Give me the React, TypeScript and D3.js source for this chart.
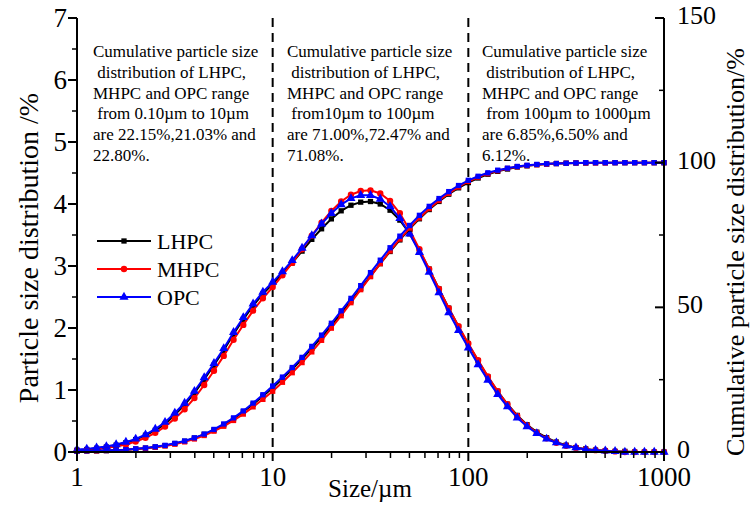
import React from "react";
import * as d3 from "d3";

const sizes = [1, 1.122, 1.259, 1.413, 1.585, 1.778, 1.995, 2.239, 2.512, 2.818, 3.162, 3.548, 3.981, 4.467, 5.012, 5.623, 6.31, 7.079, 7.943, 8.913, 10, 11.22, 12.59, 14.13, 15.85, 17.78, 19.95, 22.39, 25.12, 28.18, 31.62, 35.48, 39.81, 44.67, 50.12, 56.23, 63.1, 70.79, 79.43, 89.13, 100, 112.2, 125.9, 141.3, 158.5, 177.8, 199.5, 223.9, 251.2, 281.8, 316.2, 354.8, 398.1, 446.7, 501.2, 562.3, 631.0, 707.9, 794.3, 891.3, 1000];

const distLHPC = [0.03, 0.04, 0.06, 0.08, 0.11, 0.15, 0.2, 0.27, 0.35, 0.45, 0.6, 0.76, 0.95, 1.17, 1.4, 1.64, 1.9, 2.14, 2.36, 2.55, 2.71, 2.88, 3.05, 3.24, 3.43, 3.6, 3.76, 3.89, 3.98, 4.03, 4.04, 4.0, 3.9, 3.74, 3.52, 3.25, 2.95, 2.63, 2.32, 2.02, 1.74, 1.47, 1.21, 0.98, 0.77, 0.59, 0.44, 0.32, 0.23, 0.16, 0.11, 0.07, 0.05, 0.03, 0.02, 0.01, 0.01, 0, 0, 0, 0];
const distMHPC = [0.02, 0.03, 0.05, 0.07, 0.09, 0.12, 0.17, 0.23, 0.31, 0.41, 0.54, 0.69, 0.87, 1.08, 1.31, 1.55, 1.81, 2.05, 2.28, 2.48, 2.66, 2.85, 3.05, 3.27, 3.49, 3.7, 3.89, 4.04, 4.15, 4.21, 4.22, 4.17, 4.05, 3.85, 3.58, 3.27, 2.95, 2.63, 2.32, 2.03, 1.75, 1.48, 1.22, 0.98, 0.77, 0.58, 0.43, 0.31, 0.22, 0.15, 0.1, 0.07, 0.04, 0.03, 0.02, 0.01, 0, 0, 0, 0, 0];
const distOPC = [0.04, 0.05, 0.07, 0.09, 0.12, 0.16, 0.21, 0.28, 0.37, 0.48, 0.63, 0.79, 0.98, 1.2, 1.43, 1.67, 1.93, 2.17, 2.39, 2.58, 2.74, 2.91, 3.09, 3.29, 3.49, 3.68, 3.85, 3.99, 4.09, 4.14, 4.14, 4.08, 3.96, 3.77, 3.52, 3.22, 2.9, 2.57, 2.25, 1.96, 1.68, 1.41, 1.16, 0.93, 0.73, 0.55, 0.41, 0.3, 0.21, 0.15, 0.1, 0.07, 0.04, 0.03, 0.02, 0.01, 0, 0, 0, 0, 0];

const cumLHPC = [0.3, 0.4, 0.4, 0.5, 0.7, 0.8, 1.0, 1.3, 1.7, 2.2, 2.9, 3.7, 4.8, 6.1, 7.6, 9.4, 11.5, 13.9, 16.5, 19.3, 22.2, 25.3, 28.6, 32.1, 35.8, 39.7, 43.7, 47.9, 52.2, 56.5, 60.8, 65.1, 69.3, 73.3, 77.1, 80.6, 83.8, 86.6, 89.1, 91.3, 93.1, 94.7, 96.0, 97.0, 97.8, 98.5, 98.9, 99.3, 99.5, 99.7, 99.8, 99.9, 99.9, 100, 100, 100, 100, 100, 100, 100, 100];
const cumMHPC = [0.3, 0.4, 0.4, 0.5, 0.6, 0.8, 1.0, 1.3, 1.6, 2.1, 2.7, 3.5, 4.5, 5.7, 7.2, 8.9, 10.9, 13.1, 15.6, 18.2, 21.0, 24.1, 27.4, 30.9, 34.6, 38.6, 42.8, 47.1, 51.6, 56.1, 60.6, 65.1, 69.5, 73.6, 77.4, 80.9, 84.1, 86.9, 89.4, 91.6, 93.5, 95.0, 96.2, 97.2, 98.0, 98.6, 99.0, 99.3, 99.5, 99.7, 99.8, 99.9, 99.9, 99.9, 99.9, 100, 100, 100, 100, 100, 100];
const cumOPC = [0.3, 0.4, 0.5, 0.5, 0.7, 0.8, 1.1, 1.4, 1.8, 2.3, 3.0, 3.8, 4.9, 6.2, 7.8, 9.7, 11.8, 14.2, 16.9, 19.8, 22.8, 25.9, 29.2, 32.7, 36.5, 40.4, 44.5, 48.8, 53.1, 57.5, 62.0, 66.3, 70.6, 74.6, 78.3, 81.8, 84.9, 87.6, 90.0, 92.1, 93.9, 95.3, 96.5, 97.4, 98.1, 98.7, 99.1, 99.4, 99.6, 99.7, 99.8, 99.9, 100, 100, 100, 100, 100, 100, 100, 100, 100];

const seriesNames = ["LHPC", "MHPC", "OPC"];
const seriesColors = ["#000000", "#ff0000", "#0000ff"];
const xTicks = [1, 10, 100, 1000];
const yLeftTicks = [0, 1, 2, 3, 4, 5, 6, 7];
const yRightTicks = [0, 50, 100, 150];
const dividers = [10, 100];

const notes = [
  ["Cumulative particle size", " distribution of LHPC,", "MHPC and OPC range", " from 0.10µm to 10µm", "are 22.15%,21.03% and", "22.80%."],
  ["Cumulative particle size", " distribution of LHPC,", "MHPC and OPC range", " from10µm to 100µm", "are 71.00%,72.47% and", "71.08%."],
  ["Cumulative particle size", " distribution of LHPC,", "MHPC and OPC range", " from 100µm to 1000µm", "are 6.85%,6.50% and", "6.12%."],
];
const noteX = [93, 287, 482];

const FONT = "'Liberation Serif', 'Times New Roman', serif";

export default function App() {
  const L = 77, R = 664, T = 18, B = 452;
  const x = d3.scaleLog().domain([1, 1000]).range([L, R]);
  const yL = d3.scaleLinear().domain([0, 7]).range([B, T]);
  const yR = d3.scaleLinear().domain([0, 150]).range([B, T]);

  const dists = [distLHPC, distMHPC, distOPC];
  const cums = [cumLHPC, cumMHPC, cumOPC];
  const distShapes = [d3.symbolSquare, d3.symbolCircle, d3.symbolTriangle];
  const distSizes = [28, 32, 36];

  const lineL = d3.line<number>().x((_, i) => x(sizes[i])).y((d) => yL(d));
  const lineR = d3.line<number>().x((_, i) => x(sizes[i])).y((d) => yR(d));

  const minorX: number[] = [];
  for (let dec = 1; dec < 1000; dec *= 10) {
    for (let k = 2; k <= 9; k++) minorX.push(dec * k);
  }
  const minorYL = d3.range(0.5, 7, 1);
  const minorYR = [25, 75, 125];

  return (
    <svg width={750} height={505} style={{ position: "absolute", left: 0, top: 0, background: "#fff" }} fontFamily={FONT}>
      <rect x={0} y={0} width={750} height={505} fill="#fff" />
      {dividers.map((d) => (
        <line key={d} x1={x(d)} x2={x(d)} y1={T} y2={B} stroke="#000" strokeWidth={2} strokeDasharray="9,6" />
      ))}
      {notes.map((lines, bi) => (
        <text key={bi} fontSize={17} fill="#000" style={{ whiteSpace: "pre" }}>
          {lines.map((ln, li) => (
            <tspan key={li} x={noteX[bi]} y={57 + li * 20.8} xmlSpace="preserve">{ln}</tspan>
          ))}
        </text>
      ))}
      {dists.map((vals, si) => (
        <g key={"d" + si}>
          <path d={lineL(vals) || ""} fill="none" stroke={seriesColors[si]} strokeWidth={2} />
          {vals.map((v, i) => (
            <path key={i} transform={`translate(${x(sizes[i])},${yL(v)})`} d={d3.symbol(distShapes[si], distSizes[si])() || ""} fill={seriesColors[si]} />
          ))}
        </g>
      ))}
      {cums.map((vals, si) => (
        <g key={"c" + si}>
          <path d={lineR(vals) || ""} fill="none" stroke={seriesColors[si]} strokeWidth={2} />
          {vals.map((v, i) => (
            <path key={i} transform={`translate(${x(sizes[i])},${yR(v)})`} d={d3.symbol(d3.symbolSquare, 28)() || ""} fill={seriesColors[si]} />
          ))}
        </g>
      ))}
      <line x1={L} x2={L} y1={T} y2={B} stroke="#000" strokeWidth={2} />
      <line x1={R} x2={R} y1={T} y2={B} stroke="#000" strokeWidth={2} />
      <line x1={L} x2={R} y1={B} y2={B} stroke="#000" strokeWidth={2} />
      {xTicks.map((t) => (
        <g key={t}>
          <line x1={x(t)} x2={x(t)} y1={B} y2={B + 9} stroke="#000" strokeWidth={2} />
          <text x={x(t)} y={486} fontSize={27} textAnchor="middle">{t}</text>
        </g>
      ))}
      {minorX.map((t) => (
        <line key={t} x1={x(t)} x2={x(t)} y1={B} y2={B + 6} stroke="#000" strokeWidth={1.5} />
      ))}
      {yLeftTicks.map((t) => (
        <g key={t}>
          <line x1={L - 9} x2={L} y1={yL(t)} y2={yL(t)} stroke="#000" strokeWidth={2} />
          <text x={67} y={yL(t) + 9} fontSize={27} textAnchor="end">{t}</text>
        </g>
      ))}
      {minorYL.map((t) => (
        <line key={t} x1={L - 5} x2={L} y1={yL(t)} y2={yL(t)} stroke="#000" strokeWidth={1.5} />
      ))}
      {yRightTicks.map((t) => (
        <g key={t}>
          <line x1={R - 9} x2={R} y1={yR(t)} y2={yR(t)} stroke="#000" strokeWidth={2} />
          <text x={677} y={yR(t) + 6} fontSize={26} textAnchor="start">{t}</text>
        </g>
      ))}
      {minorYR.map((t) => (
        <line key={t} x1={R - 5} x2={R} y1={yR(t)} y2={yR(t)} stroke="#000" strokeWidth={1.5} />
      ))}
      <text x={370} y={497} fontSize={25} textAnchor="middle">Size/µm</text>
      <text transform={`translate(38,248) rotate(-90)`} fontSize={28} textAnchor="middle">Particle size distribution /%</text>
      <text transform={`translate(744,252) rotate(-90)`} fontSize={26} textAnchor="middle">Cumulative particle size distribution/%</text>
      {seriesNames.map((n, i) => {
        const ly = 241 + i * 28;
        return (
          <g key={n}>
            <line x1={97} x2={151} y1={ly} y2={ly} stroke={seriesColors[i]} strokeWidth={2} />
            <path transform={`translate(124,${ly})`} d={d3.symbol(distShapes[i], distSizes[i])() || ""} fill={seriesColors[i]} />
            <text x={157} y={ly + 8} fontSize={22}>{n}</text>
          </g>
        );
      })}
    </svg>
  );
}
